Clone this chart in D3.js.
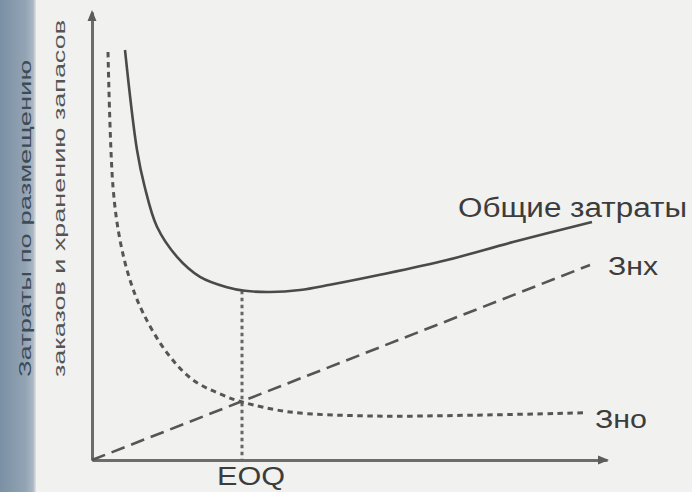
<!DOCTYPE html>
<html><head><meta charset="utf-8">
<script src="https://cdn.jsdelivr.net/npm/d3@7"></script>
<style>html,body{margin:0;padding:0;background:#f1f1ef;}svg{display:block;}</style>
</head><body><svg id="c" width="692" height="492"></svg>
<script>
// Data (arbitrary units)
const totalX = [0.66,0.90,1.05,1.30,1.70,2.16,2.70,3.06,3.56,4.16,4.76,5.76,7.10,8.42,10.0];
const totalY = [10.25,7.75,6.85,5.83,5.08,4.58,4.32,4.23,4.20,4.25,4.38,4.63,5.00,5.45,5.95];
const orderX = [0.32,0.42,0.56,0.76,1.02,1.50,2.02,2.70,3.00,3.96,5.62,7.62,9.86];
const orderY = [10.2,6.83,5.5,4.5,3.68,2.68,2.0,1.58,1.45,1.2,1.1,1.12,1.18];
const holdX = [0, 9.96];
const holdY = [0, 4.875];
const eoqX = 3.0, eoqY = 4.23;
const labels = {total:"Общие затраты", hold:"Знх", order:"Зно", eoq:"EOQ"};
const yTitle = ["Затраты по размещению", "заказов и хранению запасов"];

const svg = d3.select("#c");
const x = d3.scaleLinear().domain([0, 10.3]).range([92, 607]);
const y = d3.scaleLinear().domain([0, 11.2]).range([460, 12]);

// background + left strip
const defs = svg.append("defs");
const g = defs.append("linearGradient").attr("id","strip").attr("x1","0").attr("x2","1");
g.append("stop").attr("offset","0").attr("stop-color","#7b90a4");
g.append("stop").attr("offset","0.7").attr("stop-color","#92a3b4");
g.append("stop").attr("offset","0.92").attr("stop-color","#abb8c4");
g.append("stop").attr("offset","1").attr("stop-color","#e2e5e6");
svg.append("rect").attr("width",692).attr("height",492).attr("fill","#f1f1ef");
svg.append("rect").attr("width",36).attr("height",492).attr("fill","url(#strip)");

const col = "#555";
const lineGen = d3.line().x(d=>x(d[0])).y(d=>y(d[1])).curve(d3.curveCatmullRom.alpha(0.5));

// axes
svg.append("g").attr("transform",`translate(0,${y(0)})`).call(d3.axisBottom(x).tickValues([]).tickSizeOuter(0));
svg.append("g").attr("transform",`translate(${x(0)},0)`).call(d3.axisLeft(y).tickValues([]).tickSizeOuter(0));
svg.selectAll(".domain").attr("stroke","#6c6c6c").attr("stroke-width",3);
// arrowheads
const xe = x.range()[1], ye = y.range()[1];
svg.append("path").attr("d",`M${xe+2},${y(0)} L${xe-9},${y(0)-4.5} L${xe-9},${y(0)+4.5}Z`).attr("fill","#5c5c5c");
svg.append("path").attr("d",`M${x(0)},${ye-2} L${x(0)-4.5},${ye+9} L${x(0)+4.5},${ye+9}Z`).attr("fill","#5c5c5c");

// EOQ vertical
svg.append("line").attr("x1",x(eoqX)).attr("x2",x(eoqX)).attr("y1",y(eoqY)).attr("y2",y(0))
  .attr("stroke","#666").attr("stroke-width",3).attr("stroke-dasharray","3.5,3.5");

// holding cost
svg.append("path").datum(holdX.map((v,i)=>[v,holdY[i]])).attr("d",d3.line().x(d=>x(d[0])).y(d=>y(d[1])))
  .attr("fill","none").attr("stroke",col).attr("stroke-width",2.6).attr("stroke-dasharray","14,7");
// ordering cost
svg.append("path").datum(orderX.map((v,i)=>[v,orderY[i]])).attr("d",lineGen)
  .attr("fill","none").attr("stroke",col).attr("stroke-width",3).attr("stroke-dasharray","5.5,4.5");
// total cost
svg.append("path").datum(totalX.map((v,i)=>[v,totalY[i]])).attr("d",lineGen)
  .attr("fill","none").attr("stroke","#4a4a4a").attr("stroke-width",2.6);

// labels
const font = "Liberation Sans, Arial, sans-serif";
function lab(t,xx,yy,len,fs){
  svg.append("text").attr("x",xx).attr("y",yy).text(t).attr("font-family",font).attr("font-size",fs)
    .attr("fill","#3c3c3c").attr("textLength",len).attr("lengthAdjust","spacingAndGlyphs");
}
lab(labels.total,458,217,229,27);
lab(labels.hold,608,275,50,26);
lab(labels.order,595,428,52,26);
lab(labels.eoq,217,485,68,26);

// y titles (rotated)
svg.append("text").attr("transform","translate(31,377) rotate(-90)").text(yTitle[0])
  .attr("font-family",font).attr("font-size",17).attr("fill","#3e4a55")
  .attr("textLength",317).attr("lengthAdjust","spacingAndGlyphs");
svg.append("text").attr("transform","translate(65,377) rotate(-90)").text(yTitle[1])
  .attr("font-family",font).attr("font-size",17).attr("fill","#555")
  .attr("textLength",357).attr("lengthAdjust","spacingAndGlyphs");
</script></body></html>
